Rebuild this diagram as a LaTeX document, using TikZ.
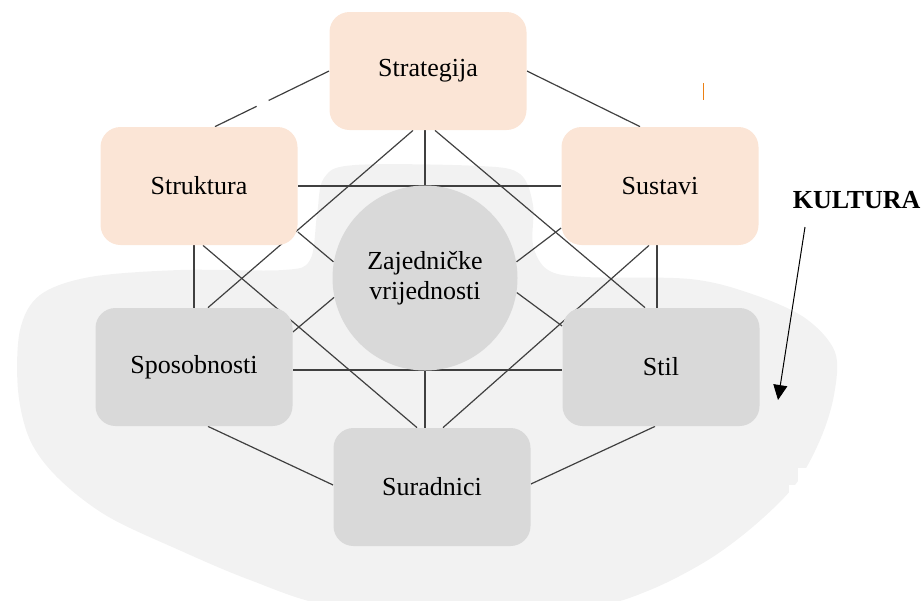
\documentclass[tikz,border=0pt]{standalone}
\usepackage{fontspec}
\setmainfont{Liberation Serif}
\usepackage{tikz}
\usetikzlibrary{arrows.meta, shapes, positioning, calc, backgrounds}
\usepackage{xcolor}

\definecolor{peach}{HTML}{FBE5D6}
\definecolor{sgray}{HTML}{D9D9D9}
\definecolor{kgray}{HTML}{F2F2F2}

\tikzset{
  sbox/.style={rectangle, rounded corners=10pt, minimum width=98.5pt, minimum height=59pt, inner sep=0pt, font=\fontsize{13}{15}\selectfont},
  hard/.style={sbox, fill=peach},
  soft/.style={sbox, fill=sgray},
  link/.style={draw=black!75, line width=0.6pt},
}

\begin{document}
\begin{tikzpicture}[x=0.5pt, y=-0.5pt]
\useasboundingbox (0,0) rectangle (924,600);

\node[hard] (strategija) at (428,71) {Strategija};
\node[hard] (struktura) at (199,186) {Struktura};
\node[hard] (sustavi) at (660,186) {Sustavi};
\node[circle, fill=sgray, minimum size=92.5pt, inner sep=0pt, align=center, font=\fontsize{13}{15}\selectfont] (zv) at (425,278) {Zajedničke\\vrijednosti};
\node[soft] (sposobnosti) at (194,367) {Sposobnosti};
\node[soft] (stil) at (661,367) {Stil};
\node[soft] (suradnici) at (432,487) {Suradnici};

\node[inner sep=0pt, font=\bfseries\fontsize{13}{15}\selectfont, right=16.75pt of sustavi, yshift=-7pt] (kultura) {KULTURA};
\coordinate (ktop) at (805,227);
\coordinate (ktip) at (778,400);
\draw[-{Triangle[length=7.5pt,width=7pt]}, line width=0.5pt] (ktop) -- (ktip);

%\node at (698,86) {'};
\draw[orange!70!brown, line width=0.5pt] (703,83) -- (703,100);

\begin{scope}[on background layer]
\fill[kgray] plot[smooth cycle, tension=0.55] coordinates {
  (317,215) (324,178) (355,165) (480,166) (520,174) (533,205) (533,245)
  (548,270) (585,277) (690,279) (752,294) (805,318) (835,352) (834,395)
  (820,440) (795,485) (755,525) (708,560) (650,590) (590,608) (470,622)
  (330,606) (250,580) (179,550) (107,516) (58,478) (30,440) (18,390)
  (20,330) (40,295) (90,277) (180,270) (283,270) (310,260)};
\fill[white] (798,468) rectangle (924,485);
\fill[white] (789,485) rectangle (924,600);

\draw[link] (strategija.west) -- ($(strategija.west)!0.53!([xshift=8pt]struktura.north)$);
\draw[link] ($(strategija.west)!0.635!([xshift=8pt]struktura.north)$) -- ([xshift=8pt]struktura.north);
\draw[link] (strategija.east) -- ([xshift=-10pt]sustavi.north);
\draw[link] ([xshift=-7.5pt]strategija.south) -- ([xshift=7pt]sposobnosti.north);
\draw[link] (zv.north) -- (zv.north |- strategija.south);
\draw[link] ([xshift=3.5pt]strategija.south) -- ([xshift=-8pt]stil.north);
\draw[link] (struktura.east) -- (sustavi.west);
\draw[link] (sposobnosti.north) -- (sposobnosti.north |- struktura.south);
\draw[link] ([xshift=2pt]struktura.south) -- ([xshift=-7.5pt]suradnici.north);
\draw[link] ([yshift=-23pt]struktura.east) -- (zv.170);
\draw[link] ([yshift=-21pt]sustavi.west) -- (zv.10);
\draw[link] ([xshift=-2pt]stil.north) -- ([xshift=-2pt]stil.north |- sustavi.south);
\draw[link] ([xshift=-5.5pt]sustavi.south) -- ([xshift=5.5pt]suradnici.north);
\draw[link] ([yshift=-1.5pt]sposobnosti.east) -- ([yshift=-1.5pt]stil.west);
\draw[link] ([yshift=17.5pt]sposobnosti.east) -- (zv.192);
\draw[link] ([yshift=20.5pt]stil.west) -- (zv.351);
\draw[link] ([xshift=7pt]sposobnosti.south) -- ([yshift=1pt]suradnici.west);
\draw[link] ([xshift=-3pt]stil.south) -- ([yshift=1.5pt]suradnici.east);
\draw[link] (zv.south) -- (zv.south |- suradnici.north);
\end{scope}
\end{tikzpicture}
\end{document}
